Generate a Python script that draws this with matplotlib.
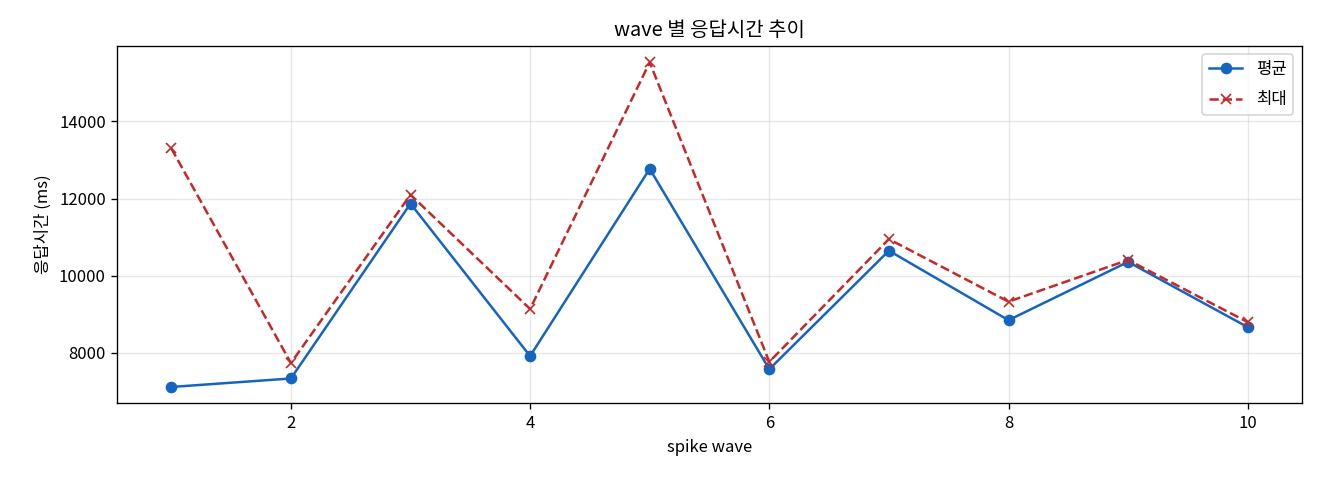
import matplotlib.pyplot as plt

plt.rcParams['font.family'] = ['Noto Sans CJK KR', 'DejaVu Sans']

# wave 별 응답시간 (ms)
waves = [1, 2, 3, 4, 5, 6, 7, 8, 9, 10]
avg_ms = [7120, 7340, 11870, 7920, 12770, 7580, 10650, 8850, 10360, 8670]
max_ms = [13300, 7740, 12100, 9140, 15530, 7770, 10950, 9330, 10410, 8800]

fig, ax = plt.subplots(figsize=(11, 4), dpi=120)

ax.plot(waves, avg_ms, marker='o', color='#1565C0', label='평균')
ax.plot(waves, max_ms, marker='x', linestyle='--', color='#C62828', label='최대')

ax.set_title('wave 별 응답시간 추이')
ax.set_xlabel('spike wave')
ax.set_ylabel('응답시간 (ms)')
ax.grid(True, alpha=0.3)
ax.legend(labelspacing=0.8)

fig.subplots_adjust(left=0.089, right=0.986, top=0.904, bottom=0.160)
fig.savefig('out.png')
